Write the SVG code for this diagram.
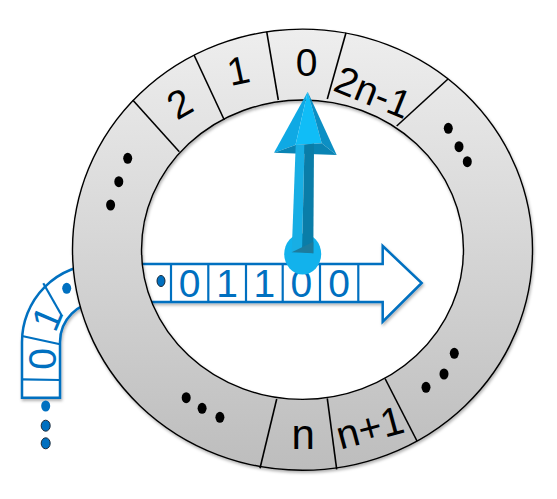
<svg xmlns="http://www.w3.org/2000/svg" width="557" height="499" viewBox="0 0 557 499">
<defs>
<linearGradient id="ringGrad" x1="0" y1="0" x2="0" y2="1">
<stop offset="0" stop-color="#eeeeee"/>
<stop offset="1" stop-color="#bdbdbd"/>
</linearGradient>
<filter id="shadow" x="-10%" y="-10%" width="120%" height="120%">
<feDropShadow dx="1" dy="2" stdDeviation="1.5" flood-color="#000" flood-opacity="0.3"/>
</filter>
</defs>
<style>
.seg{stroke:#000;stroke-width:1.6;fill:none}
.lbl{font-family:"Liberation Sans",Arial,sans-serif;font-size:39px;fill:#000;text-anchor:middle}
.tdig{font-family:"Liberation Sans",Arial,sans-serif;font-size:39px;fill:#0070C0;text-anchor:middle}
.tape{fill:#fff;stroke:#0070C0;stroke-width:2.5;stroke-linejoin:miter}
.cell{stroke:#0070C0;stroke-width:2.2;fill:none}
.bdot{fill:#000}
.blue{fill:#0070C0}
.blueo{fill:#0070C0;stroke:#1a2a3a;stroke-width:1}
</style>

<g id="tape">
<path class="tape" filter="url(#shadow)" d="M22,397.7 L22,342 A78,78 0 0 1 100,264 L382.7,264 L382.7,246 L421.7,283 L382.7,321.7 L382.7,302 L100,302 A40,40 0 0 0 60,342 L60,397.7 Z"/>
<line class="cell" x1="171" y1="264" x2="171" y2="302"/>
<line class="cell" x1="208.3" y1="264" x2="208.3" y2="302"/>
<line class="cell" x1="246" y1="264" x2="246" y2="302"/>
<line class="cell" x1="282.7" y1="264" x2="282.7" y2="302"/>
<line class="cell" x1="320" y1="264" x2="320" y2="302"/>
<line class="cell" x1="358.3" y1="264" x2="358.3" y2="302"/>
<line class="cell" x1="22" y1="336" x2="60" y2="344.3"/>
<line class="cell" x1="22" y1="379.3" x2="60" y2="380"/>
<line class="cell" x1="43.3" y1="283.3" x2="62" y2="316"/>
<ellipse class="blueo" cx="161" cy="281" rx="4" ry="5.5"/>
<ellipse class="blue" cx="66.7" cy="288.3" rx="4.5" ry="5.5"/>
<text class="tdig" x="189.6" y="297">0</text>
<text class="tdig" x="227" y="297">1</text>
<text class="tdig" x="264.3" y="297">1</text>
<text class="tdig" x="301.3" y="297">0</text>
<text class="tdig" x="339" y="297">0</text>
<text class="tdig" transform="translate(41.5,359) rotate(-90)" x="0" y="14">0</text>
<text class="tdig" transform="translate(46.7,318) rotate(-67)" x="0" y="14">1</text>
<ellipse class="blue" cx="45.7" cy="406" rx="4.5" ry="5.5"/>
<ellipse class="blueo" cx="45.7" cy="425.7" rx="4.5" ry="5.5"/>
<ellipse class="blueo" cx="45.7" cy="443.3" rx="4.5" ry="5.5"/>
</g>

<g id="ring">
<path filter="url(#shadow)" fill="url(#ringGrad)" fill-rule="evenodd" stroke="#000" stroke-width="1.4" d="M72.5,249.7 a230,220.5 0 1,0 460,0 a230,220.5 0 1,0 -460,0 Z M141.5,249.7 a161,149.7 0 1,0 322,0 a161,149.7 0 1,0 -322,0 Z"/>
</g>

<g id="connectors">
<line class="seg" x1="132.7" y1="100" x2="179.3" y2="151.7"/>
<line class="seg" x1="194" y1="55" x2="224.3" y2="120"/>
<line class="seg" x1="266.7" y1="31.7" x2="278.3" y2="100"/>
<line class="seg" x1="346" y1="32.7" x2="327.3" y2="99"/>
<line class="seg" x1="448" y1="79" x2="396.7" y2="126"/>
<line class="seg" x1="276.7" y1="399" x2="260" y2="468.3"/>
<line class="seg" x1="327.3" y1="398.3" x2="336.7" y2="469.3"/>
<line class="seg" x1="385" y1="378.5" x2="417" y2="441"/>
</g>

<g id="labels">
<text class="lbl" transform="translate(179.3,103.3) rotate(-30)" x="0" y="14">2</text>
<text class="lbl" transform="translate(238.3,70) rotate(-12)" x="0" y="14">1</text>
<text class="lbl" x="306.7" y="76">0</text>
<text class="lbl" transform="translate(373.3,91.7) rotate(22)" x="0" y="14">2n-1</text>
<text class="lbl" style="font-size:42px" x="303.3" y="449">n</text>
<text class="lbl" style="font-size:40px" transform="translate(370,428.3) rotate(-15)" x="0" y="13">n+1</text>
</g>

<g id="dots">
<ellipse class="bdot" cx="127.7" cy="158.3" rx="4.5" ry="5.5"/>
<ellipse class="bdot" cx="118.8" cy="181.7" rx="4.5" ry="5.5"/>
<ellipse class="bdot" cx="110.6" cy="205" rx="4.5" ry="5.5"/>
<ellipse class="bdot" cx="448.3" cy="128.3" rx="4.5" ry="5.5"/>
<ellipse class="bdot" cx="459" cy="146.7" rx="4.5" ry="5.5"/>
<ellipse class="bdot" cx="467.3" cy="161.7" rx="4.5" ry="5.5"/>
<ellipse class="bdot" cx="454.3" cy="353.3" rx="4.5" ry="5.5"/>
<ellipse class="bdot" cx="444" cy="374" rx="4.5" ry="5.5"/>
<ellipse class="bdot" cx="426" cy="387.3" rx="4.5" ry="5.5"/>
<ellipse class="bdot" cx="186.2" cy="397.7" rx="4.5" ry="5.5"/>
<ellipse class="bdot" cx="202.1" cy="408.3" rx="4.5" ry="5.5"/>
<ellipse class="bdot" cx="219.9" cy="417.3" rx="4.5" ry="5.5"/>
</g>

<g id="needle">
<ellipse cx="302.7" cy="254" rx="18.5" ry="20.5" fill="#12B2EC"/>
<polygon points="307.7,91.7 274,152.7 295.5,145" fill="#0FA9E4"/>
<polygon points="307.7,91.7 295.5,145 321.7,143.3" fill="#10BDF7"/>
<polygon points="307.7,91.7 321.7,143.3 336.7,155" fill="#0C8FC4"/>
<polygon points="274,152.7 295.5,145 321.7,143.3 336.7,155" fill="#0A84B4"/>
<polygon points="295.7,145 304.5,145 302,252 291.7,252.3" fill="#18AEE4"/>
<polygon points="304.5,145 314,143.5 313.3,253.3 302,252" fill="#0A7DA8"/>
<polygon points="291.7,252.3 313.3,241.7 313.3,253.3" fill="#1D7C9E"/>
</g>
</svg>
